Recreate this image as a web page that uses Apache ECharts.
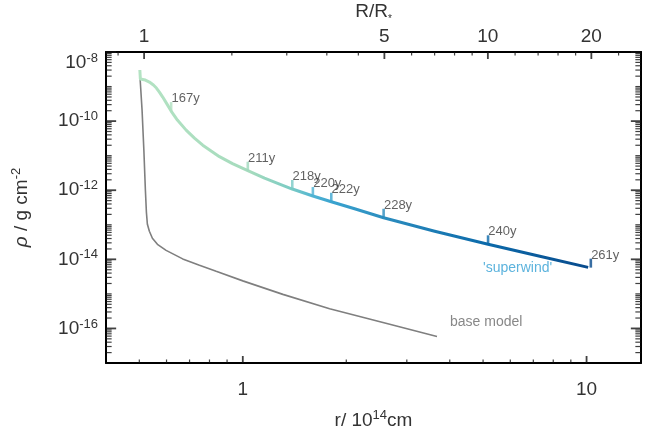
<!DOCTYPE html>
<html><head><meta charset="utf-8">
<script src="https://cdn.jsdelivr.net/npm/echarts@6/dist/echarts.min.js"></script>
<style>html,body{margin:0;padding:0;background:#fff}#c{width:659px;height:439px}</style>
</head><body><div id="c"></div>
<script>
// ---- data (r in 1e14 cm, rho in g cm^-3 as plotted) ----
const baseR   = [0.5025, 0.5093, 0.5155, 0.5208, 0.5243, 0.5278, 0.5349, 0.5458, 0.5645, 0.5983, 0.6685, 0.7480, 0.8365, 1.0, 1.308, 1.789, 2.557, 3.672];
const baseRho = [1.76e-9, 2.08e-10, 1.44e-11, 1.0e-12, 2.30e-13, 1.03e-13, 6.48e-14, 4.06e-14, 2.72e-14, 1.82e-14, 1.03e-14, 6.70e-15, 4.49e-15, 2.38e-15, 9.68e-16, 3.72e-16, 1.49e-16, 5.86e-17];
const windR   = [0.5018, 0.5035, 0.5207, 0.5350, 0.5495, 0.5607, 0.5720, 0.5848, 0.5995, 0.6188, 0.6452, 0.6842, 0.7234, 0.7647, 0.8553, 0.9333, 1.0341, 1.1566, 1.2792, 1.3929, 1.5991, 1.8088, 2.1147, 2.5685, 3.6157, 5.1700, 7.3114, 10.108];
const windRho = [3.01e-9, 1.65e-9, 1.54e-9, 1.35e-9, 1.105e-9, 9.05e-10, 6.93e-10, 4.96e-10, 3.32e-10, 1.95e-10, 1.07e-10, 5.48e-11, 3.21e-11, 2.01e-11, 9.35e-12, 5.86e-12, 3.67e-12, 2.23e-12, 1.51e-12, 1.083e-12, 6.79e-13, 4.64e-13, 2.91e-13, 1.595e-13, 6.48e-14, 2.72e-14, 1.222e-14, 5.86e-15];
const markR      = [0.6188, 1.0341, 1.3929, 1.5991, 1.8088, 2.5685, 5.1700, 10.29];
const markRho    = [1.95e-10, 3.67e-12, 1.083e-12, 6.79e-13, 4.64e-13, 1.595e-13, 2.72e-14, 5.75e-15];
const markLabels = ['167y', '211y', '218y', '220y', '222y', '228y', '240y', '261y'];
const xTickLabels   = [1, 10];
const xMinorTicks   = [0.5, 0.6, 0.7, 0.8, 0.9, 2, 3, 4, 5, 6, 7, 8, 9];
const topTickLabels = [1, 5, 10, 20];
const topMinorTicks = [0.84, 1.8, 2.6, 3.4, 4.2, 6, 7, 8, 9, 12, 14, 16, 18, 24];
const yTickLabels   = [1e-16, 1e-14, 1e-12, 1e-10, 1e-8];
const RSTAR = 0.5163;           // 1 R* in units of 1e14 cm
const X_MIN = 0.4, X_MAX = 14.4;
const Y_MIN = 1e-17, Y_MAX = 1e-8;
const EPS = 1.001;              // anchors kept just inside the axis range

// minor y ticks: 2..9 x 10^n and the odd decades
const yMinorTicks = [];
for (let n = -17; n <= -9; n++) {
  if (Math.abs(n) % 2 === 1 && n !== -17) yMinorTicks.push(Math.pow(10, n));
  for (let k = 2; k <= 9; k++) yMinorTicks.push(k * Math.pow(10, n));
}

const markColors = ['#b0e0c0', '#9fd8bd', '#78c9c5', '#4db2d3', '#3da5d0', '#2b8cbe', '#0b69aa', '#084a8c'];
const FONT = 'Liberation Sans';
const TXT = '#333';
const TICK = '#111';

const chart = echarts.init(document.getElementById('c'), null, {renderer: 'canvas'});

const yLabelFmt = v => {
  const e = Math.round(Math.log10(v));
  return (e === -8 ? '\n' : '') + '{b|10}{s|' + e + '}';
};
const richNum = {
  b: {fontSize: 19, fontFamily: FONT, color: TXT},
  s: {fontSize: 13, fontFamily: FONT, color: TXT, verticalAlign: 'top'}
};
const richName = {
  n: {fontSize: 19, fontFamily: FONT, color: TXT, lineHeight: 24},
  i: {fontSize: 19, fontFamily: FONT, fontStyle: 'italic', color: TXT, lineHeight: 24},
  s: {fontSize: 13, fontFamily: FONT, color: TXT, verticalAlign: 'top', lineHeight: 14},
  sub: {fontSize: 10, fontFamily: FONT, color: TXT, verticalAlign: 'bottom', lineHeight: 10}
};

const axisLineStyle = {show: true, lineStyle: {color: '#000', width: 2}};

// axis ticks: thin rect symbols anchored on the axes through the library's scales
function tickSeries(name, xIdx, values, fixed, isX, major, offDir) {
  const len = isX ? (major ? 7 : 3.5) : (major ? 10 : 5.5);
  const thick = major ? 1.8 : 1.2;
  return {
    name: name, type: 'scatter', xAxisIndex: xIdx, yAxisIndex: 0, clip: false, z: 6,
    data: values.map(v => isX ? [v, fixed] : [fixed, v]),
    symbol: 'rect',
    symbolSize: isX ? [thick, len] : [len, thick],
    symbolOffset: isX ? [0, offDir * len / 2] : [offDir * len / 2, 0],
    itemStyle: {color: TICK},
    label: {show: false}
  };
}

const option = {
  backgroundColor: '#fff',
  animation: false,
  grid: {left: 106, right: 18, top: 52, bottom: 76, containLabel: false, outerBoundsMode: 'none'},
  xAxis: [
    {
      type: 'log', position: 'bottom', min: X_MIN, max: X_MAX,
      axisLine: axisLineStyle, splitLine: {show: false}, axisTick: {show: false},
      axisLabel: {show: true, customValues: xTickLabels, margin: 17, fontSize: 19, fontFamily: FONT, color: TXT,
        formatter: v => String(+(+v).toPrecision(6))},
      name: '{n|r/ 10}{s|14}{n|cm}', nameLocation: 'middle', nameGap: 46, nameMoveOverlap: false,
      nameTextStyle: {fontSize: 19, fontFamily: FONT, color: TXT, rich: richName}
    },
    {
      type: 'log', position: 'top', min: X_MIN / RSTAR, max: X_MAX / RSTAR,
      axisLine: axisLineStyle, splitLine: {show: false}, axisTick: {show: false},
      axisLabel: {show: true, customValues: topTickLabels, margin: 6, fontSize: 19, fontFamily: FONT, color: TXT,
        formatter: v => String(+(+v).toPrecision(6))},
      name: '{n|R/R}{sub|*}', nameLocation: 'middle', nameGap: 28, nameMoveOverlap: false,
      nameTextStyle: {fontSize: 19, fontFamily: FONT, color: TXT, rich: richName}
    }
  ],
  yAxis: [
    {
      type: 'log', position: 'left', min: Y_MIN, max: Y_MAX,
      axisLine: axisLineStyle, splitLine: {show: false}, axisTick: {show: false},
      axisLabel: {show: true, customValues: yTickLabels, margin: 8, lineHeight: 22, formatter: yLabelFmt, rich: richNum},
      name: '{i|ρ}{n| / g cm}{s|-2}', nameLocation: 'middle', nameGap: 72, nameMoveOverlap: false,
      nameTextStyle: {fontSize: 19, fontFamily: FONT, color: TXT, rich: richName}
    },
    {
      type: 'log', position: 'right', min: Y_MIN, max: Y_MAX,
      axisLine: axisLineStyle, splitLine: {show: false}, axisTick: {show: false}, axisLabel: {show: false}
    }
  ],
  series: [
    {
      name: 'base model', type: 'line', xAxisIndex: 0, yAxisIndex: 0,
      data: baseR.map((r, i) => [r, baseRho[i]]),
      symbol: 'none', smooth: false,
      lineStyle: {color: '#7f7f7f', width: 1.6}
    },
    {
      name: 'superwind', type: 'line', xAxisIndex: 0, yAxisIndex: 0,
      data: windR.map((r, i) => [r, windRho[i]]),
      symbol: 'none', smooth: false,
      lineStyle: {width: 3, join: 'round', color: new echarts.graphic.LinearGradient(0, 0, 1, 0, [
        {offset: 0, color: '#b4e3c3'},
        {offset: 0.25, color: '#a5dbbd'},
        {offset: 0.34, color: '#7acbc4'},
        {offset: 0.39, color: '#4fb3d3'},
        {offset: 0.43, color: '#3aa3cf'},
        {offset: 0.55, color: '#2b8cbe'},
        {offset: 0.77, color: '#0c6aaa'},
        {offset: 1, color: '#084a8c'}
      ])}
    },
    {
      name: 'marks', type: 'scatter', xAxisIndex: 0, yAxisIndex: 0,
      data: markR.map((r, i) => [r, markRho[i]]),
      symbol: 'rect', symbolSize: [2.6, 9], symbolOffset: [0, '-50%'],
      itemStyle: {color: p => markColors[p.dataIndex]},
      label: {show: true, position: 'right', distance: 0, offset: [-1, -8],
        formatter: p => markLabels[p.dataIndex],
        fontSize: 13, fontFamily: FONT, color: '#3a3a3a'},
      z: 5
    },
    tickSeries('xMajB', 0, xTickLabels, Y_MIN * EPS, true, true, -1),
    tickSeries('xMinB', 0, xMinorTicks, Y_MIN * EPS, true, false, -1),
    tickSeries('xMajT', 1, topTickLabels, Y_MAX / EPS, true, true, 1),
    tickSeries('xMinT', 1, topMinorTicks, Y_MAX / EPS, true, false, 1),
    tickSeries('yMajL', 0, yTickLabels, X_MIN * EPS, false, true, 1),
    tickSeries('yMinL', 0, yMinorTicks, X_MIN * EPS, false, false, 1),
    tickSeries('yMajR', 0, yTickLabels, X_MAX / EPS, false, true, -1),
    tickSeries('yMinR', 0, yMinorTicks, X_MAX / EPS, false, false, -1)
  ],
  graphic: [
    {type: 'text', left: 483, top: 261, style: {text: "'superwind'", font: '14px "Liberation Sans"', fill: '#5cb3dd'}},
    {type: 'text', left: 450, top: 315, style: {text: 'base model', font: '14px "Liberation Sans"', fill: '#888888'}}
  ]
};
chart.setOption(option);
</script>
</body></html>
